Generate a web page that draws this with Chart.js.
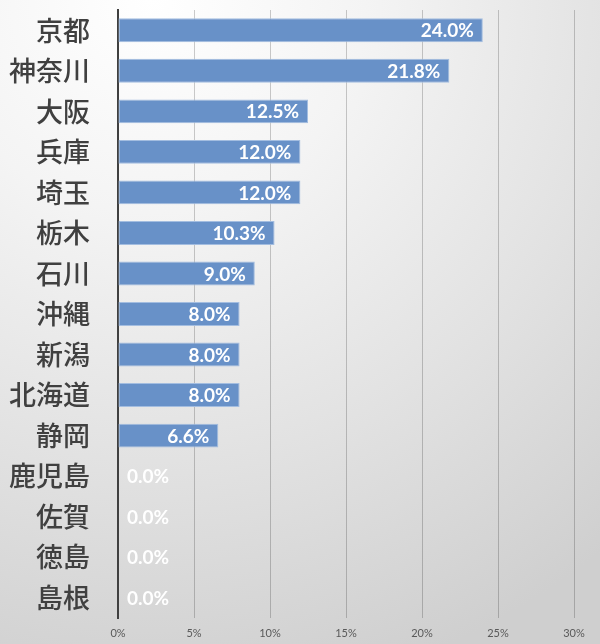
<!DOCTYPE html>
<html><head><meta charset="utf-8">
<script src="https://cdn.jsdelivr.net/npm/chart.js@4"></script>
<style>
html,body{margin:0;padding:0;}
body{width:600px;height:644px;background:radial-gradient(ellipse 120% 110% at 25% 0%, #ffffff 0%, #f4f4f4 30%, #e2e2e2 65%, #cfcfcf 100%);}
#wrap{width:600px;height:644px;position:relative;}
</style></head>
<body><div id="wrap"><canvas id="c" width="600" height="644"></canvas></div>
<script>
const categories = ["京都","神奈川","大阪","兵庫","埼玉","栃木","石川","沖縄","新潟","北海道","静岡","鹿児島","佐賀","徳島","島根"];
const values = [24.0,21.8,12.5,12.0,12.0,10.3,9.0,8.0,8.0,8.0,6.6,0.0,0.0,0.0,0.0];
const xTicks = [0,5,10,15,20,25,30];

const labelPlugin = {
  id:'barLabels',
  afterDatasetsDraw(chart){
    const ctx = chart.ctx;
    const meta = chart.getDatasetMeta(0);
    const xs = chart.scales.x;
    const base = xs.getPixelForValue(0);
    ctx.save();
    ctx.font = 'bold 19px Lato, "Liberation Sans", sans-serif';
    ctx.fillStyle = '#ffffff';
    ctx.textBaseline = 'middle';
    meta.data.forEach((bar,i)=>{
      const txt = values[i].toFixed(1) + '%';
      const w = ctx.measureText(txt).width;
      let x = bar.x - 9;
      if (x - w < base + 8) { ctx.textAlign='left'; x = base + 9; }
      else ctx.textAlign='right';
      ctx.fillText(txt, x, bar.y + 1);
    });
    ctx.restore();
  }
};

new Chart(document.getElementById('c'), {
  type:'bar',
  data:{labels:categories, datasets:[{data:values, backgroundColor:'#6891c8', borderColor:'#a3bde0', borderWidth:1, borderSkipped:false, barPercentage:0.59, categoryPercentage:1.0}]},
  options:{
    indexAxis:'y', responsive:false, animation:false, devicePixelRatio:1,
    layout:{padding:{top:10,right:26,left:0,bottom:0}},
    plugins:{legend:{display:false}, tooltip:{enabled:false}},
    scales:{
      x:{min:0,max:30,
        afterBuildTicks(s){ s.ticks = xTicks.map(v=>({value:v})); },
        grid:{color:'rgba(0,0,0,0.2)', lineWidth:1, drawTicks:false},
        border:{display:false},
        ticks:{padding:9, color:'#595959', font:{size:11, family:'Lato, "Liberation Sans", sans-serif'}, callback:(v)=>v+'%'},
        afterFit(s){ s.height = 26; s.paddingLeft = 0; s.paddingRight = 0; }
      },
      y:{
        grid:{display:false, drawTicks:false},
        border:{display:true, color:'#404040', width:2},
        ticks:{padding:28, color:'#404040', font:{size:27, weight:'500', family:'"Noto Sans CJK JP", sans-serif'}},
        afterFit(s){ s.width = 118; s.paddingTop = 0; s.paddingBottom = 0; }
      }
    }
  },
  plugins:[labelPlugin]
});
</script></body></html>
